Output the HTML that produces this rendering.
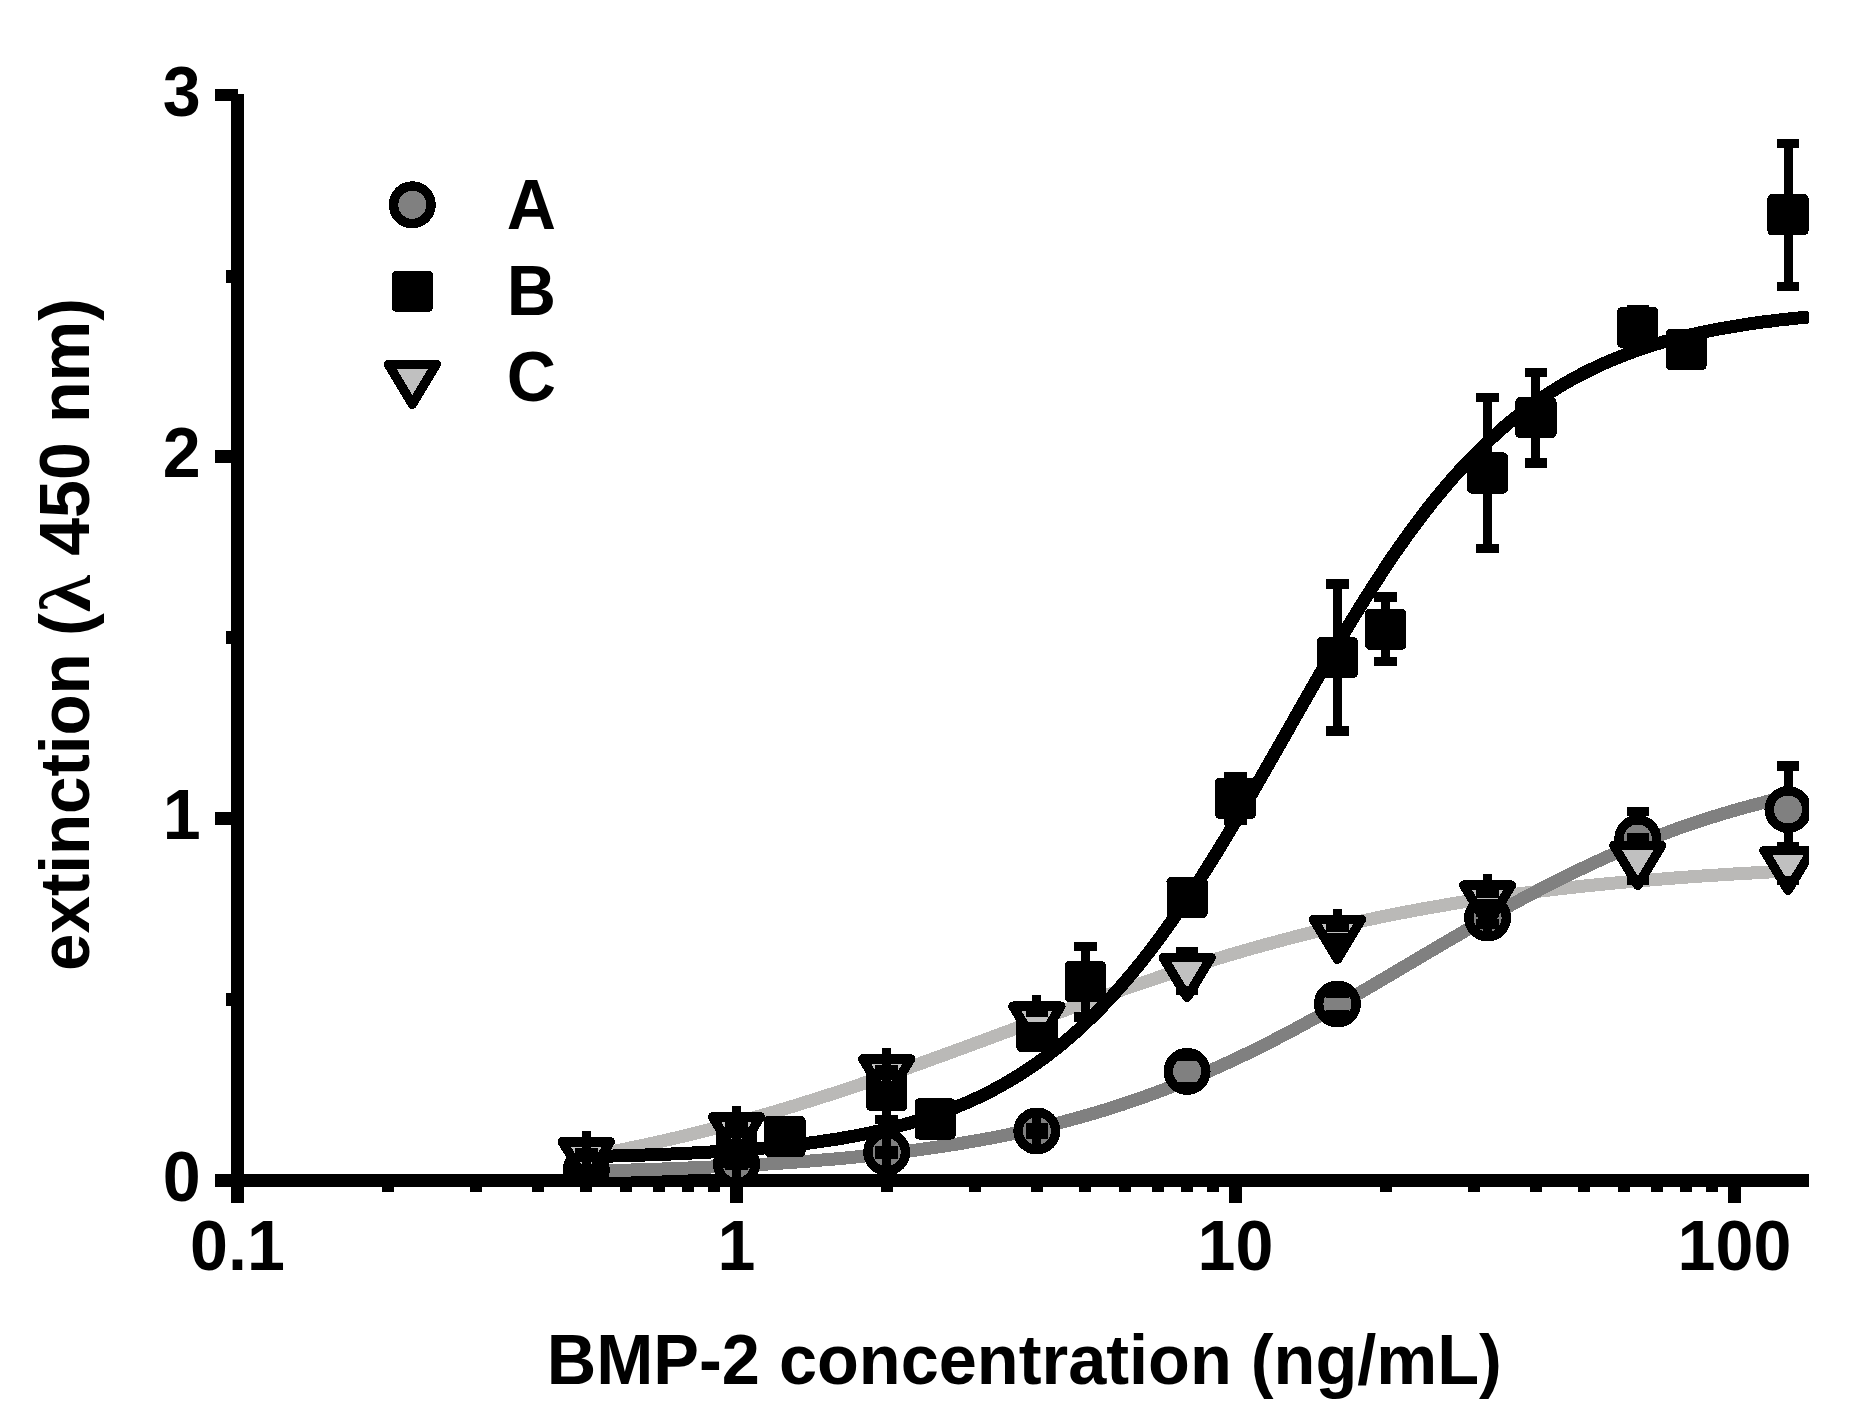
<!DOCTYPE html>
<html><head><meta charset="utf-8"><title>BMP-2 ELISA</title>
<style>html,body{margin:0;padding:0;background:#fff}svg{display:block}</style></head>
<body>
<svg width="1861" height="1426" viewBox="0 0 1861 1426" shape-rendering="crispEdges">
<rect width="1861" height="1426" fill="#fff"/>
<defs><clipPath id="pc"><rect x="238" y="0" width="1571.0" height="1187"/></clipPath></defs>
<g fill="#000">
<rect x="231" y="94" width="13" height="1109"/>
<rect x="215" y="1174" width="1594" height="13"/>
<rect x="215" y="812.2" width="23" height="12.5"/>
<rect x="215" y="450.4" width="23" height="12.5"/>
<rect x="215" y="88.6" width="23" height="12.5"/>
<rect x="226" y="993.1" width="10" height="13"/>
<rect x="226" y="631.3" width="10" height="13"/>
<rect x="226" y="269.5" width="10" height="13"/>
<rect x="730.0" y="1180" width="13" height="23"/>
<rect x="1229.0" y="1180" width="13" height="23"/>
<rect x="1728.0" y="1180" width="13" height="23"/>
<rect x="381.7" y="1180" width="12" height="12"/>
<rect x="469.6" y="1180" width="12" height="12"/>
<rect x="531.9" y="1180" width="12" height="12"/>
<rect x="580.3" y="1180" width="12" height="12"/>
<rect x="619.8" y="1180" width="12" height="12"/>
<rect x="653.2" y="1180" width="12" height="12"/>
<rect x="682.1" y="1180" width="12" height="12"/>
<rect x="707.7" y="1180" width="12" height="12"/>
<rect x="880.7" y="1180" width="12" height="12"/>
<rect x="968.6" y="1180" width="12" height="12"/>
<rect x="1030.9" y="1180" width="12" height="12"/>
<rect x="1079.3" y="1180" width="12" height="12"/>
<rect x="1118.8" y="1180" width="12" height="12"/>
<rect x="1152.2" y="1180" width="12" height="12"/>
<rect x="1181.1" y="1180" width="12" height="12"/>
<rect x="1206.7" y="1180" width="12" height="12"/>
<rect x="1379.7" y="1180" width="12" height="12"/>
<rect x="1467.6" y="1180" width="12" height="12"/>
<rect x="1529.9" y="1180" width="12" height="12"/>
<rect x="1578.3" y="1180" width="12" height="12"/>
<rect x="1617.8" y="1180" width="12" height="12"/>
<rect x="1651.2" y="1180" width="12" height="12"/>
<rect x="1680.1" y="1180" width="12" height="12"/>
<rect x="1705.7" y="1180" width="12" height="12"/>
</g>
<g clip-path="url(#pc)">
<g fill="none" stroke-width="13" stroke-linecap="butt" stroke-linejoin="round">
<path d="M586.3,1156.6 L593.9,1155.2 L601.4,1153.8 L609.0,1152.3 L616.5,1150.8 L624.1,1149.3 L631.6,1147.7 L639.2,1146.1 L646.8,1144.5 L654.3,1142.8 L661.9,1141.1 L669.4,1139.4 L677.0,1137.6 L684.6,1135.8 L692.1,1134.0 L699.7,1132.1 L707.2,1130.2 L714.8,1128.3 L722.3,1126.3 L729.9,1124.3 L737.5,1122.2 L745.0,1120.2 L752.6,1118.0 L760.1,1115.9 L767.7,1113.7 L775.2,1111.5 L782.8,1109.3 L790.4,1107.0 L797.9,1104.7 L805.5,1102.3 L813.0,1099.9 L820.6,1097.5 L828.2,1095.1 L835.7,1092.7 L843.3,1090.2 L850.8,1087.7 L858.4,1085.1 L865.9,1082.5 L873.5,1080.0 L881.1,1077.3 L888.6,1074.7 L896.2,1072.1 L903.7,1069.4 L911.3,1066.7 L918.8,1064.0 L926.4,1061.3 L934.0,1058.5 L941.5,1055.8 L949.1,1053.0 L956.6,1050.2 L964.2,1047.5 L971.8,1044.7 L979.3,1041.9 L986.9,1039.1 L994.4,1036.3 L1002.0,1033.5 L1009.5,1030.7 L1017.1,1027.8 L1024.7,1025.0 L1032.2,1022.2 L1039.8,1019.5 L1047.3,1016.7 L1054.9,1013.9 L1062.4,1011.1 L1070.0,1008.4 L1077.6,1005.6 L1085.1,1002.9 L1092.7,1000.2 L1100.2,997.5 L1107.8,994.8 L1115.4,992.1 L1122.9,989.5 L1130.5,986.9 L1138.0,984.3 L1145.6,981.7 L1153.1,979.2 L1160.7,976.6 L1168.3,974.1 L1175.8,971.7 L1183.4,969.2 L1190.9,966.8 L1198.5,964.4 L1206.0,962.1 L1213.6,959.8 L1221.2,957.5 L1228.7,955.2 L1236.3,953.0 L1243.8,950.8 L1251.4,948.6 L1258.9,946.5 L1266.5,944.4 L1274.1,942.4 L1281.6,940.3 L1289.2,938.3 L1296.7,936.4 L1304.3,934.5 L1311.9,932.6 L1319.4,930.7 L1327.0,928.9 L1334.5,927.1 L1342.1,925.4 L1349.6,923.7 L1357.2,922.0 L1364.8,920.4 L1372.3,918.8 L1379.9,917.2 L1387.4,915.6 L1395.0,914.1 L1402.5,912.7 L1410.1,911.2 L1417.7,909.8 L1425.2,908.4 L1432.8,907.1 L1440.3,905.8 L1447.9,904.5 L1455.5,903.2 L1463.0,902.0 L1470.6,900.8 L1478.1,899.7 L1485.7,898.5 L1493.2,897.4 L1500.8,896.3 L1508.4,895.3 L1515.9,894.2 L1523.5,893.2 L1531.0,892.3 L1538.6,891.3 L1546.1,890.4 L1553.7,889.5 L1561.3,888.6 L1568.8,887.8 L1576.4,886.9 L1583.9,886.1 L1591.5,885.3 L1599.1,884.6 L1606.6,883.8 L1614.2,883.1 L1621.7,882.4 L1629.3,881.7 L1636.8,881.1 L1644.4,880.4 L1652.0,879.8 L1659.5,879.2 L1667.1,878.6 L1674.6,878.0 L1682.2,877.4 L1689.7,876.9 L1697.3,876.4 L1704.9,875.8 L1712.4,875.3 L1720.0,874.9 L1727.5,874.4 L1735.1,873.9 L1742.7,873.5 L1750.2,873.1 L1757.8,872.6 L1765.3,872.2 L1772.9,871.8 L1780.4,871.5 L1788.0,871.1" stroke="#bab9b7"/>
<path d="M586.3,1156.6 L594.0,1156.5 L601.7,1156.3 L609.4,1156.1 L617.1,1155.9 L624.7,1155.7 L632.4,1155.4 L640.1,1155.2 L647.8,1154.9 L655.5,1154.7 L663.2,1154.4 L670.9,1154.0 L678.6,1153.7 L686.3,1153.3 L694.0,1152.9 L701.6,1152.5 L709.3,1152.1 L717.0,1151.6 L724.7,1151.1 L732.4,1150.6 L740.1,1150.0 L747.8,1149.5 L755.5,1148.8 L763.2,1148.1 L770.9,1147.4 L778.5,1146.7 L786.2,1145.8 L793.9,1145.0 L801.6,1144.1 L809.3,1143.1 L817.0,1142.0 L824.7,1140.9 L832.4,1139.8 L840.1,1138.5 L847.8,1137.2 L855.4,1135.8 L863.1,1134.3 L870.8,1132.7 L878.5,1131.0 L886.2,1129.2 L893.9,1127.3 L901.6,1125.3 L909.3,1123.2 L917.0,1120.9 L924.7,1118.5 L932.3,1116.0 L940.0,1113.3 L947.7,1110.4 L955.4,1107.4 L963.1,1104.2 L970.8,1100.9 L978.5,1097.3 L986.2,1093.6 L993.9,1089.6 L1001.6,1085.4 L1009.2,1081.0 L1016.9,1076.4 L1024.6,1071.5 L1032.3,1066.4 L1040.0,1061.0 L1047.7,1055.3 L1055.4,1049.4 L1063.1,1043.1 L1070.8,1036.6 L1078.5,1029.8 L1086.1,1022.6 L1093.8,1015.2 L1101.5,1007.4 L1109.2,999.3 L1116.9,990.9 L1124.6,982.1 L1132.3,973.0 L1140.0,963.6 L1147.7,953.8 L1155.4,943.8 L1163.0,933.4 L1170.7,922.6 L1178.4,911.6 L1186.1,900.3 L1193.8,888.7 L1201.5,876.8 L1209.2,864.6 L1216.9,852.3 L1224.6,839.7 L1232.3,826.8 L1239.9,813.8 L1247.6,800.7 L1255.3,787.4 L1263.0,774.0 L1270.7,760.5 L1278.4,747.0 L1286.1,733.4 L1293.8,719.9 L1301.5,706.3 L1309.2,692.8 L1316.8,679.4 L1324.5,666.1 L1332.2,653.0 L1339.9,640.0 L1347.6,627.1 L1355.3,614.5 L1363.0,602.1 L1370.7,589.9 L1378.4,578.0 L1386.1,566.3 L1393.7,554.9 L1401.4,543.9 L1409.1,533.1 L1416.8,522.7 L1424.5,512.5 L1432.2,502.7 L1439.9,493.3 L1447.6,484.1 L1455.3,475.3 L1463.0,466.8 L1470.6,458.7 L1478.3,450.9 L1486.0,443.4 L1493.7,436.2 L1501.4,429.3 L1509.1,422.7 L1516.8,416.5 L1524.5,410.5 L1532.2,404.8 L1539.9,399.3 L1547.5,394.2 L1555.2,389.3 L1562.9,384.6 L1570.6,380.2 L1578.3,375.9 L1586.0,372.0 L1593.7,368.2 L1601.4,364.6 L1609.1,361.2 L1616.8,358.0 L1624.4,355.0 L1632.1,352.1 L1639.8,349.4 L1647.5,346.8 L1655.2,344.4 L1662.9,342.1 L1670.6,340.0 L1678.3,337.9 L1686.0,336.0 L1693.7,334.2 L1701.3,332.5 L1709.0,330.9 L1716.7,329.4 L1724.4,328.0 L1732.1,326.7 L1739.8,325.4 L1747.5,324.2 L1755.2,323.1 L1762.9,322.0 L1770.6,321.1 L1778.2,320.1 L1785.9,319.3 L1793.6,318.4 L1801.3,317.7 L1809.0,316.9" stroke="#000"/>
<path d="M586.3,1171.2 L593.9,1171.0 L601.4,1170.8 L609.0,1170.7 L616.5,1170.4 L624.1,1170.2 L631.6,1170.0 L639.2,1169.8 L646.8,1169.5 L654.3,1169.3 L661.9,1169.0 L669.4,1168.7 L677.0,1168.5 L684.6,1168.2 L692.1,1167.8 L699.7,1167.5 L707.2,1167.2 L714.8,1166.8 L722.3,1166.5 L729.9,1166.1 L737.5,1165.7 L745.0,1165.3 L752.6,1164.9 L760.1,1164.4 L767.7,1164.0 L775.2,1163.5 L782.8,1163.0 L790.4,1162.5 L797.9,1161.9 L805.5,1161.3 L813.0,1160.8 L820.6,1160.1 L828.2,1159.5 L835.7,1158.9 L843.3,1158.2 L850.8,1157.5 L858.4,1156.7 L865.9,1155.9 L873.5,1155.1 L881.1,1154.3 L888.6,1153.5 L896.2,1152.6 L903.7,1151.6 L911.3,1150.7 L918.8,1149.7 L926.4,1148.6 L934.0,1147.5 L941.5,1146.4 L949.1,1145.3 L956.6,1144.1 L964.2,1142.8 L971.8,1141.5 L979.3,1140.2 L986.9,1138.8 L994.4,1137.4 L1002.0,1135.9 L1009.5,1134.3 L1017.1,1132.7 L1024.7,1131.1 L1032.2,1129.4 L1039.8,1127.6 L1047.3,1125.8 L1054.9,1123.9 L1062.4,1122.0 L1070.0,1120.0 L1077.6,1117.9 L1085.1,1115.8 L1092.7,1113.6 L1100.2,1111.4 L1107.8,1109.0 L1115.4,1106.6 L1122.9,1104.2 L1130.5,1101.6 L1138.0,1099.0 L1145.6,1096.4 L1153.1,1093.6 L1160.7,1090.8 L1168.3,1087.9 L1175.8,1085.0 L1183.4,1081.9 L1190.9,1078.8 L1198.5,1075.6 L1206.0,1072.4 L1213.6,1069.1 L1221.2,1065.7 L1228.7,1062.2 L1236.3,1058.7 L1243.8,1055.1 L1251.4,1051.4 L1258.9,1047.7 L1266.5,1043.9 L1274.1,1040.0 L1281.6,1036.1 L1289.2,1032.2 L1296.7,1028.1 L1304.3,1024.0 L1311.9,1019.9 L1319.4,1015.7 L1327.0,1011.5 L1334.5,1007.3 L1342.1,1003.0 L1349.6,998.6 L1357.2,994.3 L1364.8,989.9 L1372.3,985.5 L1379.9,981.0 L1387.4,976.6 L1395.0,972.1 L1402.5,967.7 L1410.1,963.2 L1417.7,958.7 L1425.2,954.2 L1432.8,949.8 L1440.3,945.3 L1447.9,940.9 L1455.5,936.5 L1463.0,932.1 L1470.6,927.7 L1478.1,923.4 L1485.7,919.1 L1493.2,914.8 L1500.8,910.6 L1508.4,906.4 L1515.9,902.3 L1523.5,898.2 L1531.0,894.2 L1538.6,890.2 L1546.1,886.3 L1553.7,882.4 L1561.3,878.6 L1568.8,874.8 L1576.4,871.2 L1583.9,867.6 L1591.5,864.0 L1599.1,860.5 L1606.6,857.1 L1614.2,853.8 L1621.7,850.5 L1629.3,847.3 L1636.8,844.2 L1644.4,841.2 L1652.0,838.2 L1659.5,835.3 L1667.1,832.5 L1674.6,829.7 L1682.2,827.0 L1689.7,824.4 L1697.3,821.9 L1704.9,819.4 L1712.4,817.0 L1720.0,814.7 L1727.5,812.4 L1735.1,810.2 L1742.7,808.0 L1750.2,806.0 L1757.8,804.0 L1765.3,802.0 L1772.9,800.1 L1780.4,798.3 L1788.0,796.5" stroke="#808080"/>
</g>
<circle cx="586.3" cy="1170.0" r="18.75" fill="#808080" stroke="#000" stroke-width="9.5"/>
<g fill="#000"><rect x="575.0" y="1164.3" width="22.6" height="9.4"/><rect x="581.8" y="1152.0" width="9" height="17.0"/><rect x="575.0" y="1166.3" width="22.6" height="9.4"/><rect x="581.8" y="1171.0" width="9" height="17.0"/></g>
<circle cx="736.5" cy="1164.0" r="18.75" fill="#808080" stroke="#000" stroke-width="9.5"/>
<g fill="#000"><rect x="725.2" y="1158.3" width="22.6" height="9.4"/><rect x="732.0" y="1146.0" width="9" height="17.0"/><rect x="725.2" y="1160.3" width="22.6" height="9.4"/><rect x="732.0" y="1165.0" width="9" height="17.0"/></g>
<circle cx="886.7" cy="1152.2" r="18.75" fill="#808080" stroke="#000" stroke-width="9.5"/>
<g fill="#000"><rect x="875.4" y="1145.6" width="22.6" height="9.4"/><rect x="882.2" y="1134.2" width="9" height="16.1"/><rect x="875.4" y="1149.4" width="22.6" height="9.4"/><rect x="882.2" y="1154.1" width="9" height="16.1"/></g>
<circle cx="1036.9" cy="1131.0" r="18.75" fill="#808080" stroke="#000" stroke-width="9.5"/>
<g fill="#000"><rect x="1025.6" y="1123.3" width="22.6" height="9.4"/><rect x="1032.4" y="1113.0" width="9" height="15.0"/><rect x="1025.6" y="1129.3" width="22.6" height="9.4"/><rect x="1032.4" y="1134.0" width="9" height="15.0"/></g>
<circle cx="1187.1" cy="1071.4" r="18.75" fill="#808080" stroke="#000" stroke-width="9.5"/>
<g fill="#000"><rect x="1175.8" y="1051.2" width="22.6" height="9.4"/><rect x="1182.6" y="1053.4" width="9" height="2.5"/><rect x="1175.8" y="1082.2" width="22.6" height="9.4"/><rect x="1182.6" y="1086.9" width="9" height="2.5"/></g>
<circle cx="1337.4" cy="1004.0" r="18.75" fill="#808080" stroke="#000" stroke-width="9.5"/>
<g fill="#000"><rect x="1326.1" y="988.1" width="22.6" height="9.4"/><rect x="1332.9" y="986.0" width="9" height="6.9"/><rect x="1326.1" y="1010.4" width="22.6" height="9.4"/><rect x="1332.9" y="1015.1" width="9" height="6.9"/></g>
<circle cx="1487.6" cy="917.9" r="18.75" fill="#808080" stroke="#000" stroke-width="9.5"/>
<g fill="#000"><rect x="1476.3" y="907.2" width="22.6" height="9.4"/><rect x="1483.1" y="899.9" width="9" height="12.0"/><rect x="1476.3" y="919.2" width="22.6" height="9.4"/><rect x="1483.1" y="923.9" width="9" height="12.0"/></g>
<circle cx="1637.8" cy="838.5" r="18.75" fill="#808080" stroke="#000" stroke-width="9.5"/>
<g fill="#000"><rect x="1626.5" y="806.8" width="22.6" height="9.4"/><rect x="1633.3" y="811.5" width="9" height="9.0"/><rect x="1626.5" y="860.8" width="22.6" height="9.4"/><rect x="1633.3" y="856.5" width="9" height="9.0"/></g>
<circle cx="1788.0" cy="809.5" r="18.75" fill="#808080" stroke="#000" stroke-width="9.5"/>
<g fill="#000"><rect x="1776.7" y="761.3" width="22.6" height="9.4"/><rect x="1783.5" y="766.0" width="9" height="25.5"/><rect x="1776.7" y="848.3" width="22.6" height="9.4"/><rect x="1783.5" y="827.5" width="9" height="25.5"/></g>
<rect x="570.4" y="1148.1" width="31.8" height="31.8" fill="#000" stroke="#000" stroke-width="9.4" stroke-linejoin="round"/>
<g fill="#000"><rect x="575.0" y="1156.3" width="22.6" height="9.4"/><rect x="581.8" y="1146.0" width="9" height="15.0"/><rect x="575.0" y="1162.3" width="22.6" height="9.4"/><rect x="581.8" y="1167.0" width="9" height="15.0"/></g>
<rect x="720.6" y="1131.4" width="31.8" height="31.8" fill="#000" stroke="#000" stroke-width="9.4" stroke-linejoin="round"/>
<g fill="#000"><rect x="725.2" y="1139.6" width="22.6" height="9.4"/><rect x="732.0" y="1129.3" width="9" height="15.0"/><rect x="725.2" y="1145.6" width="22.6" height="9.4"/><rect x="732.0" y="1150.3" width="9" height="15.0"/></g>
<rect x="769.0" y="1120.4" width="31.8" height="31.8" fill="#000" stroke="#000" stroke-width="9.4" stroke-linejoin="round"/>
<g fill="#000"><rect x="773.6" y="1128.6" width="22.6" height="9.4"/><rect x="780.4" y="1118.3" width="9" height="15.0"/><rect x="773.6" y="1134.6" width="22.6" height="9.4"/><rect x="780.4" y="1139.3" width="9" height="15.0"/></g>
<rect x="870.8" y="1074.6" width="31.8" height="31.8" fill="#000" stroke="#000" stroke-width="9.4" stroke-linejoin="round"/>
<g fill="#000"><rect x="875.4" y="1056.7" width="22.6" height="9.4"/><rect x="882.2" y="1061.4" width="9" height="11.1"/><rect x="875.4" y="1114.9" width="22.6" height="9.4"/><rect x="882.2" y="1108.5" width="9" height="11.1"/></g>
<rect x="919.2" y="1103.0" width="31.8" height="31.8" fill="#000" stroke="#000" stroke-width="9.4" stroke-linejoin="round"/>
<g fill="#000"><rect x="923.8" y="1111.2" width="22.6" height="9.4"/><rect x="930.6" y="1100.9" width="9" height="15.0"/><rect x="923.8" y="1117.2" width="22.6" height="9.4"/><rect x="930.6" y="1121.9" width="9" height="15.0"/></g>
<rect x="1021.0" y="1015.6" width="31.8" height="31.8" fill="#000" stroke="#000" stroke-width="9.4" stroke-linejoin="round"/>
<g fill="#000"><rect x="1025.6" y="1021.8" width="22.6" height="9.4"/><rect x="1032.4" y="1013.5" width="9" height="13.0"/><rect x="1025.6" y="1031.8" width="22.6" height="9.4"/><rect x="1032.4" y="1036.5" width="9" height="13.0"/></g>
<rect x="1069.4" y="965.6" width="31.8" height="31.8" fill="#000" stroke="#000" stroke-width="9.4" stroke-linejoin="round"/>
<g fill="#000"><rect x="1074.0" y="941.5" width="22.6" height="9.4"/><rect x="1080.8" y="946.2" width="9" height="17.3"/><rect x="1074.0" y="1012.1" width="22.6" height="9.4"/><rect x="1080.8" y="999.5" width="9" height="17.3"/></g>
<rect x="1171.2" y="881.5" width="31.8" height="31.8" fill="#000" stroke="#000" stroke-width="9.4" stroke-linejoin="round"/>
<g fill="#000"><rect x="1175.8" y="887.7" width="22.6" height="9.4"/><rect x="1182.6" y="879.4" width="9" height="13.0"/><rect x="1175.8" y="897.7" width="22.6" height="9.4"/><rect x="1182.6" y="902.4" width="9" height="13.0"/></g>
<rect x="1219.6" y="782.5" width="31.8" height="31.8" fill="#000" stroke="#000" stroke-width="9.4" stroke-linejoin="round"/>
<g fill="#000"><rect x="1224.2" y="772.3" width="22.6" height="9.4"/><rect x="1231.0" y="777.0" width="9" height="3.4"/><rect x="1224.2" y="815.1" width="22.6" height="9.4"/><rect x="1231.0" y="816.4" width="9" height="3.4"/></g>
<rect x="1321.5" y="641.6" width="31.8" height="31.8" fill="#000" stroke="#000" stroke-width="9.4" stroke-linejoin="round"/>
<g fill="#000"><rect x="1326.1" y="579.3" width="22.6" height="9.4"/><rect x="1332.9" y="584.0" width="9" height="55.5"/><rect x="1326.1" y="726.3" width="22.6" height="9.4"/><rect x="1332.9" y="675.5" width="9" height="55.5"/></g>
<rect x="1369.8" y="613.3" width="31.8" height="31.8" fill="#000" stroke="#000" stroke-width="9.4" stroke-linejoin="round"/>
<g fill="#000"><rect x="1374.4" y="592.2" width="22.6" height="9.4"/><rect x="1381.2" y="596.9" width="9" height="14.3"/><rect x="1374.4" y="656.8" width="22.6" height="9.4"/><rect x="1381.2" y="647.2" width="9" height="14.3"/></g>
<rect x="1471.7" y="457.1" width="31.8" height="31.8" fill="#000" stroke="#000" stroke-width="9.4" stroke-linejoin="round"/>
<g fill="#000"><rect x="1476.3" y="392.9" width="22.6" height="9.4"/><rect x="1483.1" y="397.6" width="9" height="57.4"/><rect x="1476.3" y="543.7" width="22.6" height="9.4"/><rect x="1483.1" y="491.0" width="9" height="57.4"/></g>
<rect x="1520.0" y="401.8" width="31.8" height="31.8" fill="#000" stroke="#000" stroke-width="9.4" stroke-linejoin="round"/>
<g fill="#000"><rect x="1524.6" y="367.9" width="22.6" height="9.4"/><rect x="1531.4" y="372.6" width="9" height="27.1"/><rect x="1524.6" y="458.1" width="22.6" height="9.4"/><rect x="1531.4" y="435.7" width="9" height="27.1"/></g>
<rect x="1621.9" y="311.5" width="31.8" height="31.8" fill="#000" stroke="#000" stroke-width="9.4" stroke-linejoin="round"/>
<g fill="#000"><rect x="1626.5" y="304.9" width="22.6" height="9.4"/><rect x="1633.3" y="309.4" width="9" height="0.2"/><rect x="1626.5" y="340.5" width="22.6" height="9.4"/><rect x="1633.3" y="345.2" width="9" height="0.2"/></g>
<rect x="1670.2" y="333.7" width="31.8" height="31.8" fill="#000" stroke="#000" stroke-width="9.4" stroke-linejoin="round"/>
<g fill="#000"><rect x="1674.8" y="339.9" width="22.6" height="9.4"/><rect x="1681.6" y="331.6" width="9" height="13.0"/><rect x="1674.8" y="349.9" width="22.6" height="9.4"/><rect x="1681.6" y="354.6" width="9" height="13.0"/></g>
<rect x="1772.1" y="198.9" width="31.8" height="31.8" fill="#000" stroke="#000" stroke-width="9.4" stroke-linejoin="round"/>
<g fill="#000"><rect x="1776.7" y="138.7" width="22.6" height="9.4"/><rect x="1783.5" y="143.3" width="9" height="53.5"/><rect x="1776.7" y="281.7" width="22.6" height="9.4"/><rect x="1783.5" y="232.8" width="9" height="53.5"/></g>
<path d="M562.4,1141.8 L610.2,1141.8 L586.3,1181.5 Z" fill="#c0c0c0" stroke="#000" stroke-width="9.5" stroke-linejoin="round"/>
<g fill="#000"><rect x="575.0" y="1148.0" width="22.6" height="9.4"/><rect x="581.8" y="1130.7" width="9" height="22.0"/><rect x="575.0" y="1152.6" width="22.6" height="9.4"/><rect x="581.8" y="1157.3" width="9" height="22.0"/></g>
<path d="M712.6,1116.8 L760.4,1116.8 L736.5,1156.5 Z" fill="#c0c0c0" stroke="#000" stroke-width="9.5" stroke-linejoin="round"/>
<g fill="#000"><rect x="725.2" y="1122.0" width="22.6" height="9.4"/><rect x="732.0" y="1105.7" width="9" height="21.0"/><rect x="725.2" y="1128.6" width="22.6" height="9.4"/><rect x="732.0" y="1133.3" width="9" height="21.0"/></g>
<path d="M862.8,1059.0 L910.6,1059.0 L886.7,1098.7 Z" fill="#c0c0c0" stroke="#000" stroke-width="9.5" stroke-linejoin="round"/>
<g fill="#000"><rect x="875.4" y="1064.5" width="22.6" height="9.4"/><rect x="882.2" y="1047.9" width="9" height="21.3"/><rect x="875.4" y="1070.5" width="22.6" height="9.4"/><rect x="882.2" y="1075.2" width="9" height="21.3"/></g>
<path d="M1013.0,1006.2 L1060.8,1006.2 L1036.9,1046.0 Z" fill="#c0c0c0" stroke="#000" stroke-width="9.5" stroke-linejoin="round"/>
<g fill="#000"><rect x="1025.6" y="1007.9" width="22.6" height="9.4"/><rect x="1032.4" y="995.2" width="9" height="17.4"/><rect x="1025.6" y="1021.6" width="22.6" height="9.4"/><rect x="1032.4" y="1026.3" width="9" height="17.5"/></g>
<path d="M1163.2,957.5 L1211.0,957.5 L1187.1,997.3 Z" fill="#c0c0c0" stroke="#000" stroke-width="9.5" stroke-linejoin="round"/>
<g fill="#000"><rect x="1175.8" y="946.5" width="22.6" height="9.4"/><rect x="1182.6" y="946.5" width="9" height="4.7"/><rect x="1175.8" y="985.7" width="22.6" height="9.4"/><rect x="1182.6" y="990.4" width="9" height="4.7"/></g>
<path d="M1313.5,919.5 L1361.3,919.5 L1337.4,959.3 Z" fill="#c0c0c0" stroke="#000" stroke-width="9.5" stroke-linejoin="round"/>
<g fill="#000"><rect x="1326.1" y="923.0" width="22.6" height="9.4"/><rect x="1332.9" y="908.5" width="9" height="19.2"/><rect x="1326.1" y="933.2" width="22.6" height="9.4"/><rect x="1332.9" y="937.9" width="9" height="19.2"/></g>
<path d="M1463.7,885.2 L1511.5,885.2 L1487.6,925.0 Z" fill="#c0c0c0" stroke="#000" stroke-width="9.5" stroke-linejoin="round"/>
<g fill="#000"><rect x="1476.3" y="888.8" width="22.6" height="9.4"/><rect x="1483.1" y="874.2" width="9" height="19.3"/><rect x="1476.3" y="898.8" width="22.6" height="9.4"/><rect x="1483.1" y="903.5" width="9" height="19.3"/></g>
<path d="M1613.9,845.5 L1661.7,845.5 L1637.8,885.3 Z" fill="#c0c0c0" stroke="#000" stroke-width="9.5" stroke-linejoin="round"/>
<g fill="#000"><rect x="1626.5" y="832.8" width="22.6" height="9.4"/><rect x="1633.3" y="834.5" width="9" height="3.0"/><rect x="1626.5" y="875.4" width="22.6" height="9.4"/><rect x="1633.3" y="880.1" width="9" height="3.0"/></g>
<path d="M1764.1,850.5 L1811.9,850.5 L1788.0,890.2 Z" fill="#c0c0c0" stroke="#000" stroke-width="9.5" stroke-linejoin="round"/>
<g fill="#000"><rect x="1776.7" y="842.0" width="22.6" height="9.4"/><rect x="1783.5" y="839.4" width="9" height="7.3"/><rect x="1776.7" y="876.0" width="22.6" height="9.4"/><rect x="1783.5" y="880.7" width="9" height="7.3"/></g>
</g>
<circle cx="412.3" cy="204.8" r="18.75" fill="#808080" stroke="#000" stroke-width="9.5"/><rect x="396.5" y="275.4" width="31.8" height="31.8" fill="#000" stroke="#000" stroke-width="9.4" stroke-linejoin="round"/><path d="M388.4,364.4 L436.2,364.4 L412.3,404.2 Z" fill="#c0c0c0" stroke="#000" stroke-width="9.5" stroke-linejoin="round"/>
<g font-family="'Liberation Sans', Arial, sans-serif" font-weight="bold" font-size="68.2px" fill="#000">
<text transform="translate(200.8,1200.9) scale(1,1.037)" text-anchor="end">0</text>
<text transform="translate(200.8,839.1) scale(1,1.037)" text-anchor="end">1</text>
<text transform="translate(200.8,477.3) scale(1,1.037)" text-anchor="end">2</text>
<text transform="translate(200.8,115.5) scale(1,1.037)" text-anchor="end">3</text>
<text transform="translate(237.5,1270.3) scale(1,1.037)" text-anchor="middle">0.1</text>
<text transform="translate(736.5,1270.3) scale(1,1.037)" text-anchor="middle">1</text>
<text transform="translate(1235.5,1270.3) scale(1,1.037)" text-anchor="middle">10</text>
<text transform="translate(1734.5,1270.3) scale(1,1.037)" text-anchor="middle">100</text>
<text transform="translate(1024.3,1384.3) scale(1.0045,1.037)" text-anchor="middle">BMP-2 concentration (ng/mL)</text>
<text transform="translate(88.5,970.9) rotate(-90) scale(0.986,1.037)">extinction</text>
<text transform="translate(88.5,636.0) rotate(-90) scale(1,1.037)">(</text>
<text transform="translate(89.8,612.3) rotate(-90) scale(1.05,1)" font-family="'Liberation Serif', serif" font-weight="bold" font-size="71.6px">λ</text>
<text transform="translate(88.5,298.1) rotate(-90) scale(1,1.037)" text-anchor="end">450 nm)</text>
<text transform="translate(506.7,228.5) scale(1,1.037)" text-anchor="start">A</text>
<text transform="translate(506.7,314.8) scale(1,1.037)" text-anchor="start">B</text>
<text transform="translate(506.7,400.6) scale(1,1.037)" text-anchor="start">C</text>
</g>
</svg>
</body></html>
